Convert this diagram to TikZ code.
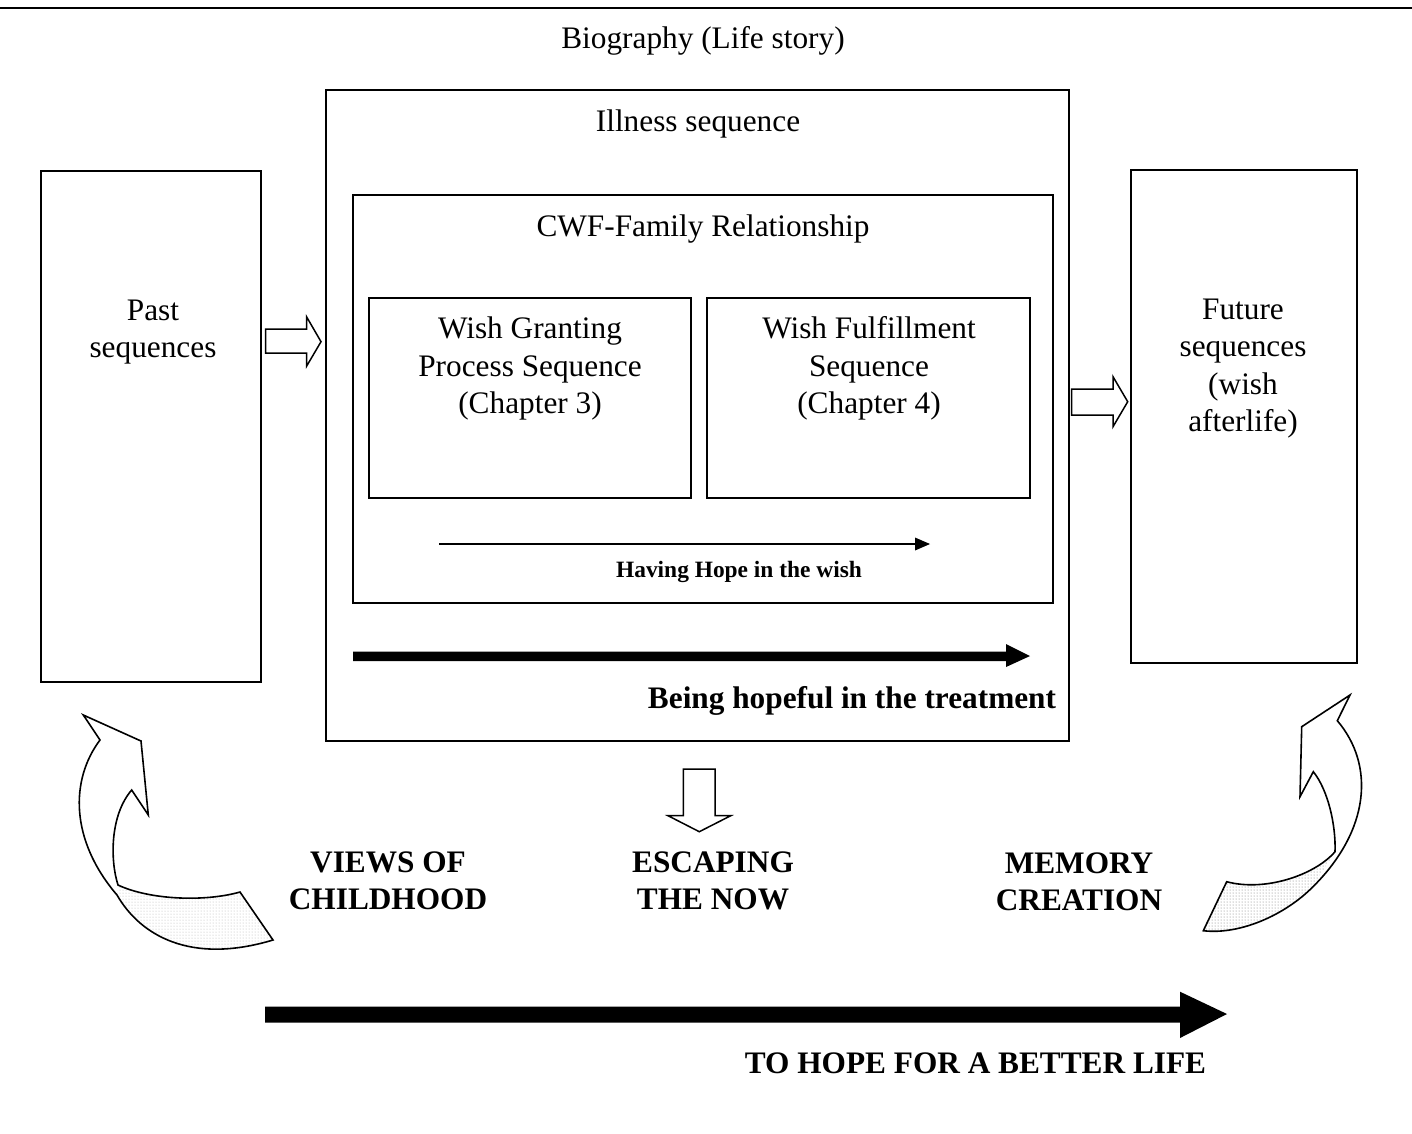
\documentclass[tikz,border=0pt]{standalone}
\usepackage{fontspec}
\setmainfont{Liberation Serif}
\usetikzlibrary{patterns}

\begin{document}
\begin{tikzpicture}[x=1pt,y=-1pt,
  frame/.style={draw=black,line width=1.9pt,inner sep=0pt,fill=none},
  txt/.style={font=\fontsize{31.3}{37.5}\selectfont,align=center,inner sep=0pt},
  bold/.style={txt,font=\fontsize{31.3}{37.5}\selectfont\bfseries},
  small/.style={font=\fontsize{23.4}{28}\selectfont\bfseries,inner sep=0pt},
  blockarrow/.style={draw=black,line width=1.5pt,fill=white,line join=miter},
  solidarrow/.style={fill=black,draw=none},
  ribbon/.style={draw=black,line width=1.6pt,line join=miter},
]
\useasboundingbox (0,0) rectangle (1412,1133);

% rule across the top of the page
\draw[line width=2.5pt] (0,8) -- (1412,8);

% title
\node[txt] (bio) at (703,41) {Biography (Life story)};

% nested frames
\node[frame,minimum width=743pt,minimum height=651pt] (illness) at (697.5,415.5) {};
\node[txt] (illnessT) at (698,124) {Illness sequence};

\node[frame,minimum width=700pt,minimum height=408pt] (cwf) at (703,399) {};
\node[txt] (cwfT) at (703,229) {CWF-Family Relationship};

\node[frame,minimum width=322pt,minimum height=200pt] (wg) at (530,398) {};
\node[txt] (wgT) at (530,368.5) {Wish Granting\\Process Sequence\\(Chapter 3)};

\node[frame,minimum width=323pt,minimum height=200pt] (wf) at (868.5,398) {};
\node[txt] (wfT) at (869,368.5) {Wish Fulfillment\\Sequence\\(Chapter 4)};

\node[frame,minimum width=220pt,minimum height=511pt] (past) at (151,426.5) {};
\node[txt] (pastT) at (153,332) {Past\\sequences};

\node[frame,minimum width=226pt,minimum height=493pt] (future) at (1244,416.5) {};
\node[txt] (futureT) at (1243,368.5) {Future\\sequences\\(wish\\afterlife)};

% thin arrow inside the relationship frame
\coordinate (hA) at (439,544);
\coordinate (hB) at (915,544);
\draw[line width=1.8pt] (hA) -- (hB);
\fill (915,537.5) -- (930,544) -- (915,550.5) -- cycle;
\node[small] (hopeWish) at (739,572) {Having Hope in the wish};

% thick arrow inside the illness frame
\fill[solidarrow] (353,651.5) -- (1006,651.5) -- (1006,644) -- (1030,656)
  -- (1006,667) -- (1006,661) -- (353,661) -- cycle;
\node[bold] (treat) at (852,701) {Being hopeful in the treatment};

% hollow block arrows
\draw[blockarrow] (265.7,329) -- (306.7,329) -- (306.7,317) -- (321,341.7)
  -- (306.7,366) -- (306.7,353) -- (265.7,353) -- cycle;
\draw[blockarrow] (1071.7,389) -- (1113,389) -- (1113,376.7) -- (1127.7,401.7)
  -- (1113,426.7) -- (1113,415) -- (1071.7,415) -- cycle;
\draw[blockarrow] (683.3,769) -- (715,769) -- (715,815.7) -- (730.7,815.7)
  -- (699.3,831.7) -- (668,815.7) -- (683.3,815.7) -- cycle;

% captions
\node[bold] (views) at (388,881) {VIEWS OF\\CHILDHOOD};
\node[bold] (escape) at (713,881) {ESCAPING\\THE NOW};
\node[bold] (memory) at (1079,882) {MEMORY\\CREATION};

% left curved ribbon arrow
\fill[pattern=dots,pattern color=black!30]
  (118,885) .. controls (150,900) and (205,902) .. (240,892) -- (273,940)
  .. controls (190,965) and (140,935) .. (117,895) -- cycle;
\draw[ribbon] (273,940) -- (240,892) .. controls (205,902) and (150,900) .. (118,885)
  .. controls (110,860) and (110,815) .. (131.7,790) -- (148.3,815) -- (141,741)
  -- (83.3,715) -- (100,740) .. controls (70,780) and (70,840) .. (117,895)
  .. controls (140,935) and (190,965) .. (273,940) -- cycle;

% right curved ribbon arrow
\fill[pattern=dots,pattern color=black!55]
  (1203.3,930.7) -- (1226.7,881.7) .. controls (1265,892) and (1315,875) .. (1335,851.7)
  -- (1313,886.7) .. controls (1285,915) and (1240,935) .. (1203.3,930.7) -- cycle;
\draw[ribbon] (1203.3,930.7) -- (1226.7,881.7) .. controls (1265,892) and (1315,875) .. (1335,851.7)
  .. controls (1336,825) and (1328,790) .. (1313.3,771.7) -- (1300,796.7) -- (1301.7,726.7)
  -- (1350,695) -- (1337.3,720.7) .. controls (1375,765) and (1370,830) .. (1313,886.7)
  .. controls (1285,915) and (1240,935) .. (1203.3,930.7) -- cycle;

% long arrow along the bottom
\fill[solidarrow] (265,1006.7) -- (1180,1006.7) -- (1180,991.7) -- (1227,1014)
  -- (1180,1038) -- (1180,1022.7) -- (265,1022.7) -- cycle;
\node[bold] (better) at (975.5,1063) {TO HOPE FOR A BETTER LIFE};
\end{tikzpicture}
\end{document}
